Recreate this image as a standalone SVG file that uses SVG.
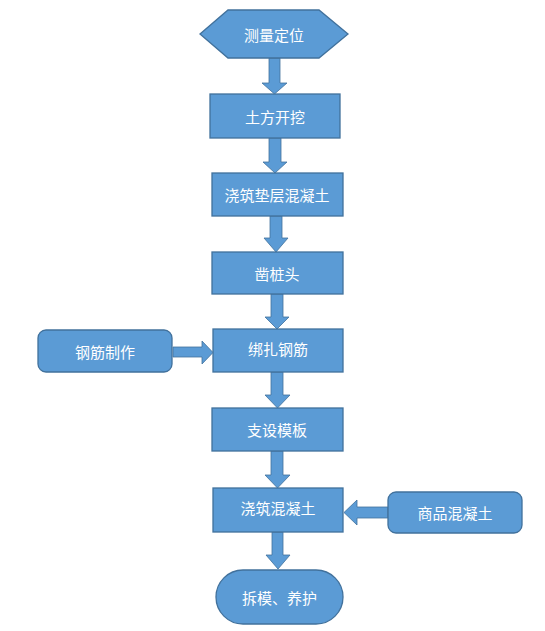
<svg xmlns="http://www.w3.org/2000/svg" width="545" height="631" viewBox="0 0 545 631">
<style>
.n{fill:#5B9BD5;stroke:#41719C;stroke-width:1.3}
.a{fill:#5B9BD5;stroke:#41719C;stroke-width:0.8}
text{fill:#FFFFFF;font-family:"Noto Sans CJK SC","Liberation Sans",sans-serif;font-size:15px;text-anchor:middle;dominant-baseline:central}
</style>
<rect width="545" height="631" fill="#FFFFFF"/>
<g id="connectors">
<polygon class="a" points="269,58 280,58 280,83 287,83 274.5,94 262,83 269,83"/>
<polygon class="a" points="269,138 281,138 281,162 287,162 275,173 263,162 269,162"/>
<polygon class="a" points="270,216 282,216 282,238 288,238 276,252 264,238 270,238"/>
<polygon class="a" points="271,294 283,294 283,317 289,317 277,329 265,317 271,317"/>
<polygon class="a" points="271,372 283,372 283,395 290,395 277.5,408 265,395 271,395"/>
<polygon class="a" points="271,451 283,451 283,475 290,475 277.5,488 265,475 271,475"/>
<polygon class="a" points="272,532 283,532 283,555 290,555 278,569 266,555 272,555"/>
<polygon class="a" points="173,347 202,347 202,341 213,352.5 202,364 202,357 173,357"/>
<polygon class="a" points="388,507 357,507 357,500 344,512.5 357,525 357,518 388,518"/>
</g>
<g id="n1"><polygon class="n" points="200,34 228,10 319,10 348,34 319,58 228,58"/><text x="274" y="34">测量定位</text></g>
<g id="n2"><rect class="n" x="210" y="94" width="130" height="44"/><text x="275" y="116">土方开挖</text></g>
<g id="n3"><rect class="n" x="212" y="173" width="131" height="43"/><text x="277" y="194.5">浇筑垫层混凝土</text></g>
<g id="n4"><rect class="n" x="212" y="252" width="131" height="42"/><text x="277" y="273">凿桩头</text></g>
<g id="n5"><rect class="n" x="213" y="329" width="130" height="43"/><text x="278" y="348">绑扎钢筋</text></g>
<g id="n6"><rect class="n" x="212" y="408" width="131" height="43"/><text x="277" y="429.5">支设模板</text></g>
<g id="n7"><rect class="n" x="213" y="488" width="130" height="44"/><text x="278" y="507">浇筑混凝土</text></g>
<g id="n8"><rect class="n" x="216" y="570" width="127" height="54" rx="27" ry="27"/><text x="279.5" y="597">拆模、养护</text></g>
<g id="n9"><rect class="n" x="38" y="330" width="134" height="42" rx="8" ry="8"/><text x="105" y="351">钢筋制作</text></g>
<g id="n10"><rect class="n" x="388" y="492" width="134" height="41" rx="8" ry="8"/><text x="455" y="512.5">商品混凝土</text></g>
</svg>
